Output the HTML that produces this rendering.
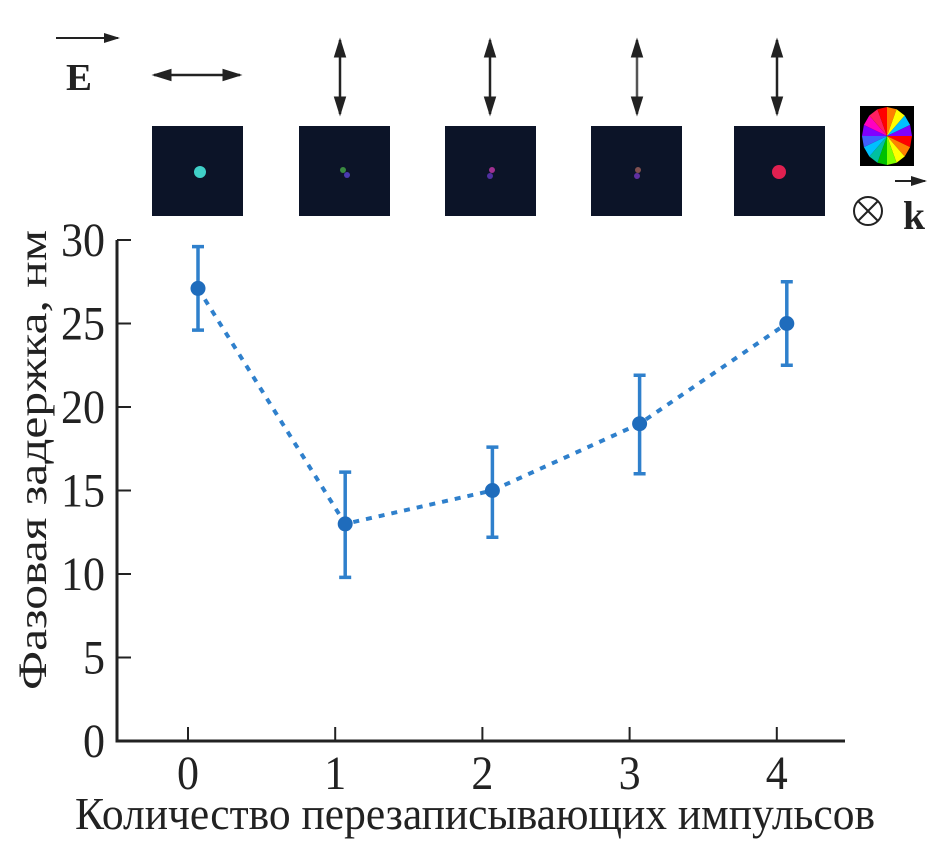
<!DOCTYPE html>
<html><head><meta charset="utf-8"><style>
html,body{margin:0;padding:0;background:#fff;}
svg{display:block;font-family:"Liberation Serif",serif;}
</style></head><body>
<svg width="948" height="842" viewBox="0 0 948 842">
<defs>
<marker id="ah" markerWidth="8" markerHeight="8" refX="7" refY="4" orient="auto-start-reverse"><path d="M0,1.5 L8,4 L0,6.5 z" fill="#222"/></marker>
</defs>
<g>
<line x1="56" y1="38" x2="118" y2="38" stroke="#222" stroke-width="2" marker-end="url(#ah)"/>
<text x="66" y="90" font-size="38" font-weight="bold" fill="#222" textLength="26" lengthAdjust="spacingAndGlyphs">E</text>
<line x1="154" y1="75" x2="240" y2="75" stroke="#222" stroke-width="2.5" marker-start="url(#ah)" marker-end="url(#ah)"/>
<line x1="340" y1="40" x2="340" y2="114" stroke="#222" stroke-width="2.5" marker-start="url(#ah)" marker-end="url(#ah)"/>
<line x1="490" y1="40" x2="490" y2="114" stroke="#222" stroke-width="2.5" marker-start="url(#ah)" marker-end="url(#ah)"/>
<line x1="637" y1="40" x2="637" y2="114" stroke="#555" stroke-width="2.5" marker-start="url(#ah)" marker-end="url(#ah)"/>
<line x1="777" y1="40" x2="777" y2="114" stroke="#222" stroke-width="2.5" marker-start="url(#ah)" marker-end="url(#ah)"/>
<rect x="152" y="126" width="91" height="90" fill="#0c1428"/>
<circle cx="200" cy="172" r="6" fill="#40d0c8"/>
<rect x="299" y="126" width="91" height="90" fill="#0c1428"/>
<circle cx="343" cy="170" r="3" fill="#3a8a40"/><circle cx="347" cy="175" r="3" fill="#4a3ab0"/>
<rect x="445" y="126" width="91" height="90" fill="#0c1428"/>
<circle cx="492" cy="170" r="3" fill="#a03090"/><circle cx="490" cy="176" r="3" fill="#5030a0"/>
<rect x="591" y="126" width="91" height="90" fill="#0c1428"/>
<circle cx="638" cy="170" r="3" fill="#805050"/><circle cx="637" cy="176" r="3" fill="#6030a0"/>
<rect x="734" y="126" width="91" height="90" fill="#0c1428"/>
<circle cx="779" cy="172" r="7" fill="#e02050"/>
<rect x="860" y="106" width="54" height="60" fill="#000"/>
<g id="wheel"></g>
<line x1="895" y1="181" x2="925" y2="181" stroke="#222" stroke-width="2" marker-end="url(#ah)"/>
<circle cx="868" cy="211" r="14" fill="none" stroke="#222" stroke-width="2"/>
<line x1="858" y1="201" x2="878" y2="221" stroke="#222" stroke-width="2"/><line x1="878" y1="201" x2="858" y2="221" stroke="#222" stroke-width="2"/>
<text x="903" y="229" font-size="40" font-weight="bold" fill="#222" textLength="22" lengthAdjust="spacingAndGlyphs">k</text>
</g>
<g id="axes"></g>
<g id="plot"></g>
<text x="75" y="829" font-size="46" fill="#222" textLength="800" lengthAdjust="spacingAndGlyphs">Количество перезаписывающих импульсов</text>
<text transform="translate(46,460) rotate(-90)" font-size="40" text-anchor="middle" fill="#222" textLength="460" lengthAdjust="spacingAndGlyphs">Фазовая задержка, нм</text>
</svg>
<script>
const categories=[0,1,2,3,4];
const values=[27.1,13,15,19,25];
const errLow=[24.6,9.8,12.2,16,22.5];
const errHigh=[29.6,16.1,17.6,21.9,27.5];
const yTicks=[0,5,10,15,20,25,30];
const NS="http://www.w3.org/2000/svg";
const x0=117,y0=741,yTop=240;
const xs=c=>188+c*147.2;
const ys=v=>y0-(v/30)*(y0-yTop);
function mk(t,a,p){const e=document.createElementNS(NS,t);for(const k in a)e.setAttribute(k,a[k]);p.appendChild(e);return e;}
const ax=document.getElementById('axes');
let l=mk('path',{d:`M${x0},${yTop} L${x0},${y0} L845,${y0}`,fill:'none',stroke:'#222','stroke-width':3},ax);


yTicks.forEach(v=>{
 const t=mk('line',{x1:x0,x2:x0+14,y1:ys(v),y2:ys(v),stroke:'#222','stroke-width':2},ax);
 
 
 const s=String(v);
 const tx=mk('text',{x:x0-12,y:ys(v)+16,'font-size':48,'text-anchor':'end',fill:'#222',textLength:s.length*22,lengthAdjust:'spacingAndGlyphs'},ax);tx.textContent=s;
 
 
});
categories.forEach(c=>{
 const t=mk('line',{x1:xs(c),x2:xs(c),y1:y0,y2:y0-14,stroke:'#222','stroke-width':2},ax);
 
 
 const tx=mk('text',{x:xs(c),y:y0+48,'font-size':48,'text-anchor':'middle',fill:'#222',textLength:22,lengthAdjust:'spacingAndGlyphs'},ax);tx.textContent=c;
 
 
});
const pl=document.getElementById('plot');
const px=c=>xs(c)+10;
const ln=mk('polyline',{points:categories.map((c,i)=>px(c)+','+ys(values[i])).join(' '),fill:'none',stroke:'#2f80cc','stroke-width':4,'stroke-dasharray':'6,7'},pl);


categories.forEach((c,i)=>{
 const x=px(c);
 const e=mk('path',{d:`M${x},${ys(errLow[i])} L${x},${ys(errHigh[i])} M${x-6},${ys(errLow[i])} L${x+6},${ys(errLow[i])} M${x-6},${ys(errHigh[i])} L${x+6},${ys(errHigh[i])}`,stroke:'#2f80cc','stroke-width':3.5,fill:'none'},pl);
 
 
 const p=mk('circle',{cx:x,cy:ys(values[i]),r:7.5,fill:'#1f6cbc'},pl);
 
 
});
const wh=document.getElementById('wheel');
const cols=['#ff0000','#ff8000','#ffff00','#80ff00','#00c000','#00c0a0','#00c0ff','#4060ff','#8000ff','#ff00c0','#ff2060','#ff0000','#ff8000','#ffff00','#00c0ff','#8000ff'];
const cx=887,cy=136,rx=25,ry=29,n=cols.length;
for(let k=0;k<n;k++){const a1=k/n*2*Math.PI,a2=(k+1)/n*2*Math.PI;
 mk('path',{d:`M${cx},${cy} L${cx+rx*Math.cos(a1)},${cy+ry*Math.sin(a1)} L${cx+rx*Math.cos(a2)},${cy+ry*Math.sin(a2)} Z`,fill:cols[k]},wh);}
</script>
</body></html>
